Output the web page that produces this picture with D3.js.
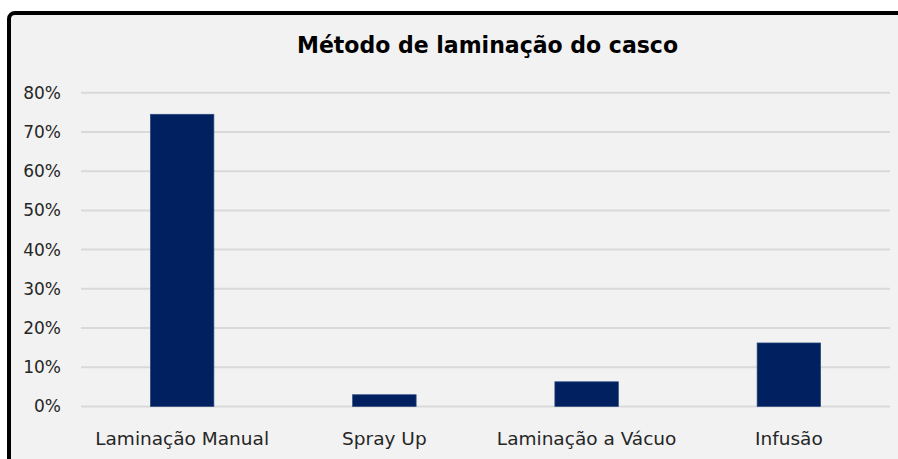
<!DOCTYPE html>
<html>
<head>
<meta charset="utf-8">
<script src="https://cdn.jsdelivr.net/npm/d3@7"></script>
<style>
  body { margin: 0; background: #fff; }
  svg { display: block; }
</style>
</head>
<body>
<script>
var categories = ["Laminação Manual", "Spray Up", "Laminação a Vácuo", "Infusão"];
var values = [0.745, 0.03, 0.063, 0.162];
var yTicks = [0, 0.1, 0.2, 0.3, 0.4, 0.5, 0.6, 0.7, 0.8];
var title = "Método de laminação do casco";

var W = 898, H = 459;
var plotLeft = 81, plotRight = 890, plotTop = 92.7, plotBottom = 406.5;

var svg = d3.select("body").append("svg")
  .attr("width", W)
  .attr("height", H);

// chart area frame (only top + left border visible in the crop)
svg.append("rect")
  .attr("x", 9).attr("y", 13)
  .attr("width", W + 20).attr("height", H + 20)
  .attr("rx", 6)
  .attr("fill", "#f2f2f2")
  .attr("stroke", "#000")
  .attr("stroke-width", 4);

svg.append("text")
  .attr("x", 487.5).attr("y", 53)
  .attr("text-anchor", "middle")
  .attr("font-family", "'DejaVu Sans', sans-serif")
  .attr("font-weight", "bold")
  .attr("font-size", 23)
  .attr("textLength", 381)
  .attr("lengthAdjust", "spacingAndGlyphs")
  .attr("fill", "#000")
  .text(title);

var x = d3.scaleBand().domain(categories).range([plotLeft, plotRight]);
var y = d3.scaleLinear().domain([0, 0.8]).range([plotBottom, plotTop]);

// gridlines
svg.append("g")
  .selectAll("line")
  .data(yTicks)
  .enter().append("line")
  .attr("x1", plotLeft).attr("x2", plotRight)
  .attr("y1", function(d) { return y(d); })
  .attr("y2", function(d) { return y(d); })
  .attr("stroke", "#d9d9d9")
  .attr("stroke-width", 2);

// y axis labels
var yAxis = svg.append("g")
  .attr("transform", "translate(" + plotLeft + ",0)")
  .call(d3.axisLeft(y).tickValues(yTicks).tickFormat(d3.format(".0%")).tickSize(0).tickPadding(20));
yAxis.select(".domain").remove();
yAxis.selectAll("text")
  .attr("font-family", "'DejaVu Sans', sans-serif")
  .attr("font-size", 17)
  .attr("fill", "#262626");

// bars
var barW = x.bandwidth() * 0.314;
svg.append("g")
  .selectAll("rect")
  .data(values)
  .enter().append("rect")
  .attr("x", function(d, i) { return x(categories[i]) + x.bandwidth() / 2 - barW / 2; })
  .attr("y", function(d) { return y(d); })
  .attr("width", barW)
  .attr("height", function(d) { return y(0) - y(d); })
  .attr("fill", "#002060")
  .attr("stroke", "#2c4a7f")
  .attr("stroke-width", 0.7);

// x axis labels
var xAxis = svg.append("g")
  .attr("transform", "translate(0," + plotBottom + ")")
  .call(d3.axisBottom(x).tickSize(0).tickPadding(25));
xAxis.select(".domain").remove();
xAxis.selectAll("text")
  .attr("font-family", "'DejaVu Sans', sans-serif")
  .attr("font-size", 18.5)
  .attr("fill", "#262626");
</script>
</body>
</html>
